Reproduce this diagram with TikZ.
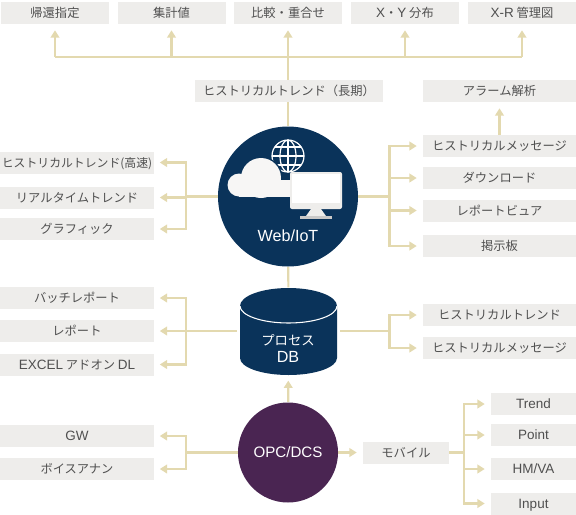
\documentclass[tikz,border=0pt]{standalone}
\usepackage{fontspec}
\setmainfont{Noto Sans CJK JP}
\newfontfamily\lat[Scale=1.1]{Liberation Sans}
\usetikzlibrary{calc,shapes.geometric,arrows.meta,backgrounds}
\definecolor{hbox}{RGB}{238,237,235}
\definecolor{htext}{RGB}{80,80,80}
\definecolor{hline}{RGB}{227,217,175}
\definecolor{hnavy}{RGB}{10,51,90}
\definecolor{hplum}{RGB}{74,37,82}

\begin{document}
\begin{tikzpicture}[
  x=0.75pt,y=-0.75pt,
  every node/.style={text=htext,font=\fontsize{9.2}{11}\selectfont},
  tag/.style={fill=hbox,inner sep=0pt,minimum height=16.5pt,text height=9pt,text depth=1.8pt,align=center},
  topbox/.style={tag,minimum width=81pt},
  sidebox/.style={tag,minimum width=114.75pt},
  smallbox/.style={tag,minimum width=63.75pt},
  wire/.style={hline,line width=1.6pt},
  feed/.style={wire,-{Triangle[length=5.5pt,width=6.5pt]},shorten >=4.5pt},
  title/.style={text=white,font=\fontsize{11}{12.75}\selectfont\lat,align=center}]

\useasboundingbox (0,0) rectangle (576,515);

% ---- top row ----
\node[topbox] (kikan) at (55,13) {帰還指定};
\node[topbox] (shukei) at (171.5,13) {集計値};
\node[topbox] (hikaku) at (288,13) {比較・重合せ};
\node[topbox] (xy) at (405,13) {{\lat X}・{\lat Y} 分布};
\node[topbox] (xr) at (522,13) {{\lat X-R} 管理図};

\node[tag,minimum width=141pt] (choki) at (289,91) {ヒストリカルトレンド（長期）};
\node[tag,minimum width=114.75pt] (alarm) at (499.5,91) {アラーム解析};

% ---- the three hubs ----
\node[circle,fill=hnavy,minimum size=105pt,inner sep=0pt] (web) at (288,196.5) {};
\node[minimum width=72.75pt,minimum height=65pt,inner sep=0pt] (db) at (288.5,331) {};
\node[circle,fill=hplum,minimum size=75pt,inner sep=0pt,title,font=\fontsize{10.3}{12.75}\selectfont\lat] (opc) at (288,452.5) {OPC/DCS};

% icon on the web circle
\draw[white,line width=0.9pt] (288,156) circle (16);
\draw[white,line width=0.9pt] (288,156) ellipse (8 and 16);
\draw[white,line width=0.9pt] (288,140)--(288,172) (272,156)--(304,156) (275,147)--(301,147) (275,165)--(301,165);
\fill[hnavy] (261,178) circle (21.5);
\fill[hbox!50!white] (239,185) circle (11.5);
\fill[hbox!50!white] (261,178) circle (20);
\fill[hbox!50!white] (239,180) rectangle (292,196.5);
\fill[hbox,rounded corners=1.5pt] (290,172) rectangle (342,209);
\fill[white] (292,174) rectangle (340,203);
\fill[hbox] (311,209)--(321,209)--(326,216)--(306,216)--cycle;
\fill[hbox!85!black] (300,216) rectangle (332,219);

\node[title] (weblabel) at (288,236) {Web/IoT};

% the drum
\fill[hnavy] (240,306) arc[start angle=180,end angle=360,x radius=48.5,y radius=18]
  -- (337,358) arc[start angle=0,end angle=180,x radius=48.5,y radius=17] -- cycle;
\draw[white,line width=0.8pt] (240,306) arc[start angle=180,end angle=0,x radius=48.5,y radius=17];
\node[title,inner sep=0pt] (dblabel) at (288,348.5) {{\fontsize{10}{12.75}\selectfont\normalfont プロセス}\\DB};

% ---- left of the hubs ----
\node[sidebox,font=\fontsize{8.9}{11}\selectfont] (kosoku) at (77,162.5) {ヒストリカルトレンド(高速)};
\node[sidebox] (realtime) at (77,197.5) {リアルタイムトレンド};
\node[sidebox] (graphic) at (77,229) {グラフィック};
\node[sidebox] (batch) at (77,298) {バッチレポート};
\node[sidebox] (report) at (77,331) {レポート};
\node[sidebox] (excel) at (77,364.5) {{\lat EXCEL} アドオン {\lat DL}};
\node[sidebox] (gw) at (77,436) {\lat GW};
\node[sidebox] (voice) at (77,469) {ボイスアナン};

% ---- right of the hubs ----
\node[sidebox] (message) at (499.5,146) {ヒストリカルメッセージ};
\node[sidebox] (download) at (499.5,178) {ダウンロード};
\node[sidebox] (viewer) at (499.5,210.5) {レポートビュア};
\node[sidebox] (board) at (499.5,246) {掲示板};
\node[sidebox] (dbtrend) at (499.5,315) {ヒストリカルトレンド};
\node[sidebox] (dbmessage) at (499.5,348) {ヒストリカルメッセージ};
\node[tag,minimum width=64.5pt] (mobile) at (406,452.5) {モバイル};
\node[smallbox] (trend) at (533.5,404) {\lat Trend};
\node[smallbox] (point) at (533.5,435) {\lat Point};
\node[smallbox] (hmva) at (533.5,469) {\lat HM/VA};
\node[smallbox] (input) at (533.5,503.5) {\lat Input};

% ---- junctions ----
\coordinate (busmid) at (288,57);
\coordinate (busleft) at (kikan|-busmid);
\coordinate (busshukei) at (shukei|-busmid);
\coordinate (busxy) at (xy|-busmid);
\coordinate (busright) at (xr|-busmid);
\coordinate (webleft) at (186,196.5);
\coordinate (webright) at (389.5,196.5);
\coordinate (dbleft) at (186,331);
\coordinate (dbright) at (389.5,331);
\coordinate (opcleft) at (186,452.5);
\coordinate (mobright) at (464,452.5);

% ---- connectors, under the nodes ----
\begin{scope}[on background layer]
  \draw[wire] (web)--(busmid);
  \draw[wire] (busleft)--(busright);
  \draw[feed] (busleft)--(kikan);
  \draw[feed] (busshukei)--(shukei);
  \draw[feed] (busmid)--(hikaku);
  \draw[feed] (busxy)--(xy);
  \draw[feed] (busright)--(xr);
  \draw[feed] (message)--(alarm);

  \draw[wire] (web)--(webleft);
  \draw[feed] (webleft)|-(kosoku);
  \draw[feed] (webleft)|-(realtime);
  \draw[feed] (webleft)|-(graphic);
  \draw[wire] (web)--(webright);
  \draw[feed] (webright)|-(message);
  \draw[feed] (webright)|-(download);
  \draw[feed] (webright)|-(viewer);
  \draw[feed] (webright)|-(board);

  \draw[wire] (web)--(db);
  \draw[wire,shorten <=2pt] (db)--(dbleft);
  \draw[feed] (dbleft)|-(batch);
  \draw[feed] (dbleft)|-(report);
  \draw[feed] (dbleft)|-(excel);
  \draw[wire,shorten <=2pt] (db)--(dbright);
  \draw[feed] (dbright)|-(dbtrend);
  \draw[feed] (dbright)|-(dbmessage);

  \draw[feed] (opc)--(db);
  \draw[wire] (opc)--(opcleft);
  \draw[feed] (opcleft)|-(gw);
  \draw[feed] (opcleft)|-(voice);
  \draw[feed] (opc)--(mobile);
  \draw[wire] (mobile)--(mobright);
  \draw[feed] (mobright)|-(trend);
  \draw[feed] (mobright)|-(point);
  \draw[feed] (mobright)|-(hmva);
  \draw[feed] (mobright)|-(input);
\end{scope}
\end{tikzpicture}
\end{document}
